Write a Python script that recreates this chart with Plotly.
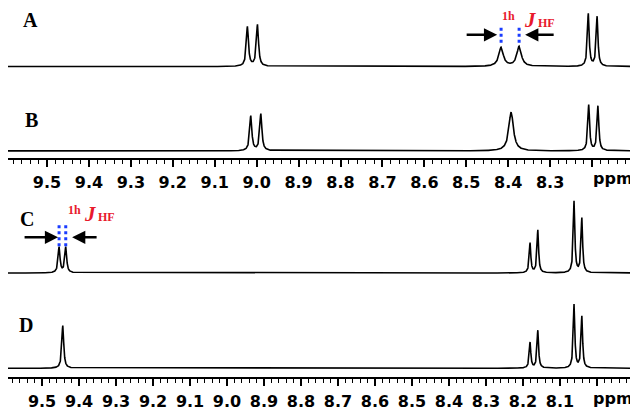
import numpy as np
import plotly.graph_objects as go

# peak lists: chemical shift (ppm), height, FWHM (ppm)
A_shift = [9.022, 8.998, 8.417, 8.374, 8.209, 8.188]
A_height = [40, 42, 19, 20, 53, 50]
A_width = [0.006, 0.006, 0.013, 0.013, 0.005, 0.005]

B_shift = [9.014, 8.990, 8.393, 8.208, 8.186]
B_height = [35, 37, 39, 46, 45]
B_width = [0.006, 0.006, 0.013, 0.005, 0.005]

C_shift = [9.454, 9.436, 8.181, 8.160, 8.062, 8.041]
C_height = [26, 26, 30, 43, 72, 55]
C_width = [0.006, 0.006, 0.005, 0.005, 0.005, 0.005]

D_shift = [9.444, 8.181, 8.160, 8.062, 8.041]
D_height = [43, 26, 38, 64, 52]
D_width = [0.006, 0.005, 0.005, 0.005, 0.005]

top_ticks = [9.5, 9.4, 9.3, 9.2, 9.1, 9.0, 8.9, 8.8, 8.7, 8.6, 8.5, 8.4, 8.3, 8.2, 8.1]
top_labels = ["9.5", "9.4", "9.3", "9.2", "9.1", "9.0", "8.9", "8.8", "8.7", "8.6", "8.5", "8.4", "8.3", "", ""]
bot_ticks = [9.5, 9.4, 9.3, 9.2, 9.1, 9.0, 8.9, 8.8, 8.7, 8.6, 8.5, 8.4, 8.3, 8.2, 8.1, 8.0, 7.9]
bot_labels = ["9.5", "9.4", "9.3", "9.2", "9.1", "9.0", "8.9", "8.8", "8.7", "8.6", "8.5", "8.4", "8.3", "8.2", "8.1", "", ""]

# the page body adds an 8px margin, so lay out in page pixels and shift
OFF = 8
W, H = 638 - OFF, 411 - OFF
TOP_AXIS_PX, BOT_AXIS_PX = 159, 380      # page pixel rows of the two axis lines
TOP_SPAN, BOT_SPAN = 159, 190
OFFSETS = {"A": 92, "B": 7, "C": 105, "D": 9}


def px(x):
    return (x - OFF) / W


def py(y):
    return 1 - (y - OFF) / H


def spectrum(x, shifts, heights, widths):
    y = np.zeros_like(x)
    for s, h, w in zip(shifts, heights, widths):
        y += h / (1 + (2 * (x - s) / w) ** 2)
    return y


x_top = np.linspace(8.1, 9.6, 8000)
x_bot = np.linspace(7.9, 9.6, 9000)

fig = go.Figure()
line = dict(color="black", width=1.6)
fig.add_trace(go.Scatter(x=x_top, y=spectrum(x_top, A_shift, A_height, A_width) + OFFSETS["A"],
                         mode="lines", line=line, xaxis="x", yaxis="y"))
fig.add_trace(go.Scatter(x=x_top, y=spectrum(x_top, B_shift, B_height, B_width) + OFFSETS["B"],
                         mode="lines", line=line, xaxis="x", yaxis="y"))
fig.add_trace(go.Scatter(x=x_bot, y=spectrum(x_bot, C_shift, C_height, C_width) + OFFSETS["C"],
                         mode="lines", line=line, xaxis="x2", yaxis="y2"))
fig.add_trace(go.Scatter(x=x_bot, y=spectrum(x_bot, D_shift, D_height, D_width) + OFFSETS["D"],
                         mode="lines", line=line, xaxis="x2", yaxis="y2"))

tickfont = dict(family="DejaVu Sans", size=16, color="black", weight="bold")
axis_common = dict(showline=True, linecolor="black", linewidth=1.5, ticks="outside",
                   ticklen=7, tickwidth=1.5, tickcolor="black", tickfont=tickfont,
                   ticklabelstandoff=2,
                   showgrid=False, zeroline=False, tickmode="array",
                   minor=dict(dtick=0.02, tick0=7.9, ticks="outside", ticklen=4,
                              tickwidth=1.2, tickcolor="black", showgrid=False))

fig.update_layout(
    width=W, height=H,
    margin=dict(l=0, r=0, t=0, b=0),
    plot_bgcolor="white", paper_bgcolor="white",
    showlegend=False,
    xaxis=dict(domain=[0, px(634)], range=[9.5 + 39 / 419.2, 8.1], anchor="y",
               tickvals=top_ticks, ticktext=top_labels, **axis_common),
    yaxis=dict(domain=[py(TOP_AXIS_PX), 1], range=[0, TOP_SPAN - OFF], visible=False),
    xaxis2=dict(domain=[0, px(634)], range=[9.5 + 34 / 369.3, 7.9], anchor="y2",
                tickvals=bot_ticks, ticktext=bot_labels, **axis_common),
    yaxis2=dict(domain=[py(BOT_AXIS_PX), py(BOT_AXIS_PX - BOT_SPAN)],
                range=[0, BOT_SPAN], visible=False),
)

# spectrum letters
serif = dict(family="Liberation Serif, Times New Roman", size=20, color="black", weight="bold")
for name, lx, ly in [("A", 30, 20), ("B", 31, 121), ("C", 27, 221), ("D", 26, 327)]:
    fig.add_annotation(text=name, x=px(lx), y=py(ly), xref="paper", yref="paper",
                       showarrow=False, font=serif, xanchor="center", yanchor="middle")

# ppm unit labels
for ly in [180, 401]:
    fig.add_annotation(text="ppm", x=px(613), y=py(ly), xref="paper", yref="paper",
                       showarrow=False, font=tickfont, xanchor="center", yanchor="middle")

# coupling label "1hJHF" built from three pieces
red = "#e8192c"
def jlabel(x1h, y1h, xj, yj, xhf, yhf):
    parts = [("1h", x1h, y1h, 12, None), ("J", xj, yj, 21, "italic"), ("HF", xhf, yhf, 12, None)]
    for txt, lx, ly, size, style in parts:
        f = dict(family="Liberation Serif, Times New Roman", size=size, color=red, weight="bold")
        if style:
            f["style"] = style
        fig.add_annotation(text=txt, x=px(lx), y=py(ly), xref="paper", yref="paper",
                           showarrow=False, font=f, xanchor="center", yanchor="middle")

jlabel(509, 16, 530, 20, 546, 23)
jlabel(74, 212, 90, 216, 106, 219)

# dotted markers over the split peaks
dot = dict(color="#1a3cff", width=3, dash="dot")
for s in A_shift[2:4]:
    fig.add_shape(type="line", xref="x", yref="y", x0=s, x1=s, y0=116, y1=134, line=dot)
for s in C_shift[0:2]:
    fig.add_shape(type="line", xref="x2", yref="y2", x0=s, x1=s, y0=132, y1=153, line=dot)

# arrows pointing at the splitting
arrow = dict(showarrow=True, arrowhead=2, arrowsize=1.1, arrowwidth=2.4, arrowcolor="black", ay=0, text="")
fig.add_annotation(x=8.4264, y=124, xref="x", yref="y", ax=-32, **arrow)
fig.add_annotation(x=8.3596, y=124, xref="x", yref="y", ax=30, **arrow)
fig.add_annotation(x=9.4567, y=141, xref="x2", yref="y2", ax=-35, **arrow)
fig.add_annotation(x=9.4188, y=141, xref="x2", yref="y2", ax=26, **arrow)

fig.write_html("out.html")
